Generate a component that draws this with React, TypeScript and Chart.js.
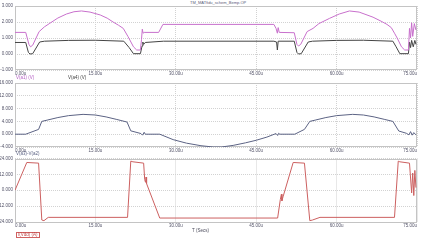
import React, { useEffect, useRef } from "react";
import { Chart, registerables } from "chart.js";
Chart.register(...registerables);

// ---------- data (time in µs, values) ----------
const titleText = "TM_MATfidu_schem_Bemp.OP";
const xTickValues = [0, 15, 30, 45, 60, 75];
const xMax = 75;

// Panel 1: V(a1) (purple) and V(a4) (dark)
const vA1: [number, number][] = [
  [0, 1.35], [2.0, 1.35], [2.6, 0.6], [2.9, 0.45], [3.3, 0.55], [4.5, 1.4], [5.5, 1.7], [6.5, 1.92],
  [8.0, 2.25], [9.6, 2.5], [11.0, 2.64], [12.4, 2.69], [14.0, 2.62], [15.9, 2.44], [17.2, 2.24],
  [18.3, 2.0], [19.3, 1.8], [20.2, 1.6], [21.1, 1.08], [22.1, 0.45], [22.7, 0.25], [23.4, 0.25],
  [23.6, 0.9], [23.75, 1.55], [23.9, 1.3], [24.1, 1.35], [26.8, 1.35], [27.6, 1.85], [48.3, 1.85],
  [48.7, 1.6], [48.95, 1.3], [49.1, 1.65], [49.3, 1.35], [52.1, 1.33], [52.6, 0.6], [52.9, 0.5],
  [53.3, 0.6], [54.5, 1.4], [55.6, 1.6], [56.7, 1.9], [58.7, 2.23], [60.5, 2.5], [62.4, 2.69],
  [64.2, 2.62], [66.8, 2.3], [68.3, 2.05], [69.4, 1.85], [70.2, 1.65], [70.8, 1.3], [71.3, 1.0],
  [72.1, 0.45], [72.7, 0.25], [73.4, 0.25], [73.6, 1.6], [73.8, 1.0], [74.0, 1.95], [74.2, 1.1],
  [74.5, 1.9], [74.8, 1.5],
];
const vA4: [number, number][] = [
  [0, 0.72], [2.0, 0.72], [2.5, 0.1], [2.8, 0.0], [3.3, 0.02], [4.6, 0.75], [5.5, 0.8], [10, 0.85],
  [15, 0.86], [20.3, 0.8], [21.3, 0.4], [22.1, 0.02], [23.4, 0.02], [23.7, 0.5], [23.85, 0.75],
  [24.0, 0.6], [24.3, 0.72], [27.7, 0.8], [48.3, 0.8], [48.8, 0.75], [48.95, 0.25], [49.1, 0.8],
  [52.1, 0.8], [52.6, 0.1], [52.9, 0.0], [53.4, 0.02], [54.7, 0.75], [55.5, 0.8], [60, 0.85],
  [65, 0.86], [70.5, 0.8], [71.1, 0.45], [71.8, 0.02], [73.4, 0.02], [73.6, 0.75], [73.8, 0.4],
  [74.0, 0.85], [74.3, 0.45], [74.6, 0.85], [74.8, 0.6],
];

// Panel 2: V(a3)-V(a2)
const vA3A2: [number, number][] = [
  [0, 0], [2.0, 0], [4.4, 1.5], [5.0, 4.0], [6, 4.4], [8, 5.2], [10, 5.8], [12.7, 6.2], [15, 6.0],
  [17, 5.4], [19, 4.6], [20.9, 3.8], [21.6, 1.05], [23.5, 0.2], [23.8, -0.3], [24.1, 0.6], [24.3, 0],
  [27, 0], [29.5, -1.7], [32, -2.8], [34.7, -3.6], [37, -4.0], [38.5, -4.0], [40.7, -3.5], [43, -2.7],
  [45, -1.9], [47, -0.9], [48.7, 0.2], [49.0, -0.4], [49.2, 0.3], [49.4, 0], [52.2, 0], [54, 1.5],
  [55, 4.0], [56, 4.4], [58, 5.2], [60, 5.8], [63, 6.2], [65, 6.0], [67, 5.4], [69, 4.6], [70.5, 4.0],
  [71.6, 1.0], [73.0, 0.3], [73.5, -0.2], [73.8, 0.8], [74.1, -0.3], [74.4, 0.5], [74.8, -0.2],
];

// Panel 3: I(Vdd)
const iVdd: [number, number][] = [
  [0, 0], [2.2, 21], [4.4, 20.5], [5.0, -22.5], [5.4, -23], [6.2, -20.5], [21.0, -20.5], [21.6, 22],
  [22.0, 21.5], [24.0, 20.5], [24.2, 8], [24.35, 6], [24.45, 10], [24.55, 5], [27.0, -21], [49.0, -21],
  [49.5, -7], [49.7, -3], [49.8, -8], [50.0, -5], [51.9, 21], [54.0, 20.5], [55.0, -23], [55.5, -22.5],
  [56.9, -20.5], [70.8, -20.5], [71.5, 22], [71.8, 21.5], [73.6, 20.5], [74.0, -2], [74.2, 13],
  [74.4, -4], [74.6, 15], [74.8, 2],
];

// ---------- styling ----------
const FONT = "'Liberation Sans', Arial, sans-serif";
const tickFont = { family: FONT, size: 4.5 };
const tickColor = "#55556a";
const gridColor = "#d2d2d2";

const framePlugin = {
  id: "frame",
  beforeDatasetsDraw(chart: any) {
    const { ctx, chartArea: a } = chart;
    ctx.save();
    ctx.strokeStyle = "#c4c4c4";
    ctx.lineWidth = 1;
    ctx.strokeRect(Math.round(a.left) + 0.5, Math.round(a.top) + 0.5, Math.round(a.right - a.left) - 1, Math.round(a.bottom - a.top) - 1);
    ctx.restore();
  },
};

type Series = { data: [number, number][]; color: string };

function Panel(props: {
  top: number;
  height: number;
  padTop: number;
  yMin: number;
  yMax: number;
  yStep: number;
  series: Series[];
}) {
  const ref = useRef<HTMLCanvasElement>(null);
  useEffect(() => {
    const chart = new Chart(ref.current!, {
      type: "line",
      data: {
        datasets: props.series.map((s) => ({
          data: s.data.map(([x, y]) => ({ x, y })),
          borderColor: s.color,
          borderWidth: 1,
          pointRadius: 0,
          tension: 0,
          fill: false,
        })),
      },
      options: {
        animation: false,
        responsive: false,
        maintainAspectRatio: false,
        layout: { padding: { top: props.padTop, left: 0, right: 9, bottom: 0 } },
        plugins: { legend: { display: false }, tooltip: { enabled: false }, title: { display: false } },
        scales: {
          x: {
            type: "linear",
            min: 0,
            max: xMax,
            afterBuildTicks: (s: any) => {
              s.ticks = xTickValues.map((v) => ({ value: v }));
            },
            ticks: {
              callback: (v: any) => Number(v).toFixed(2) + "u",
              font: tickFont,
              color: tickColor,
              padding: 1,
              align: "inner",
              maxRotation: 0,
              autoSkip: false,
            },
            grid: { color: gridColor, drawTicks: false, lineWidth: 1 },
            border: { display: false, dash: [1, 1] },
            afterFit: (s: any) => {
              s.height = 10;
              s.paddingLeft = 0;
              s.paddingRight = 0;
            },
          },
          y: {
            type: "linear",
            min: props.yMin,
            max: props.yMax,
            ticks: {
              stepSize: props.yStep,
              callback: (v: any) => Number(v).toFixed(3),
              font: tickFont,
              color: tickColor,
              padding: 2,
            },
            grid: { color: gridColor, drawTicks: false, lineWidth: 1 },
            border: { display: false, dash: [1, 1] },
            afterFit: (s: any) => {
              s.width = 15;
              s.paddingTop = 0;
              s.paddingBottom = 0;
            },
          },
        },
      } as any,
      plugins: [framePlugin],
    });
    return () => chart.destroy();
  }, []);
  return (
    <canvas
      ref={ref}
      width={426}
      height={props.height}
      style={{ position: "absolute", left: 0, top: props.top, width: 426, height: props.height }}
    />
  );
}

const label = (text: string, left: number, top: number, color: string, extra: any = {}) => (
  <span
    style={{
      position: "absolute",
      left,
      top,
      fontSize: 4.5,
      lineHeight: "6px",
      fontFamily: FONT,
      color,
      whiteSpace: "nowrap",
      ...extra,
    }}
  >
    {text}
  </span>
);

export default function App() {
  return (
    <div style={{ position: "absolute", left: 0, top: 0, width: 426, height: 240, background: "#fff", overflow: "hidden" }}>
      {label(titleText, 190, 0, "#5a5a7a", { fontSize: 4 })}
      <Panel top={0} height={80} padTop={6} yMin={-1} yMax={3} yStep={1}
        series={[{ data: vA1, color: "#c870cc" }, { data: vA4, color: "#444444" }]} />
      <Panel top={78} height={79} padTop={5} yMin={-4} yMax={16} yStep={4}
        series={[{ data: vA3A2, color: "#5c6384" }]} />
      <Panel top={153} height={79} padTop={5.5} yMin={-24} yMax={24} yStep={12}
        series={[{ data: iVdd, color: "#cc6060" }]} />
      {label("V(a1) (V)", 16, 75, "#b45cc4")}
      {label("V(a4) (V)", 68, 75, "#444444")}
      {label("V(a3)-V(a2)", 16, 151, "#5c6384")}
      {label("I(Vdd) (A)", 16, 232, "#c04848", { border: "1px solid #d06060", padding: "0 1px", lineHeight: "4px" })}
      {label("T (Secs)", 192, 228, "#4a4a5a")}
    </div>
  );
}
